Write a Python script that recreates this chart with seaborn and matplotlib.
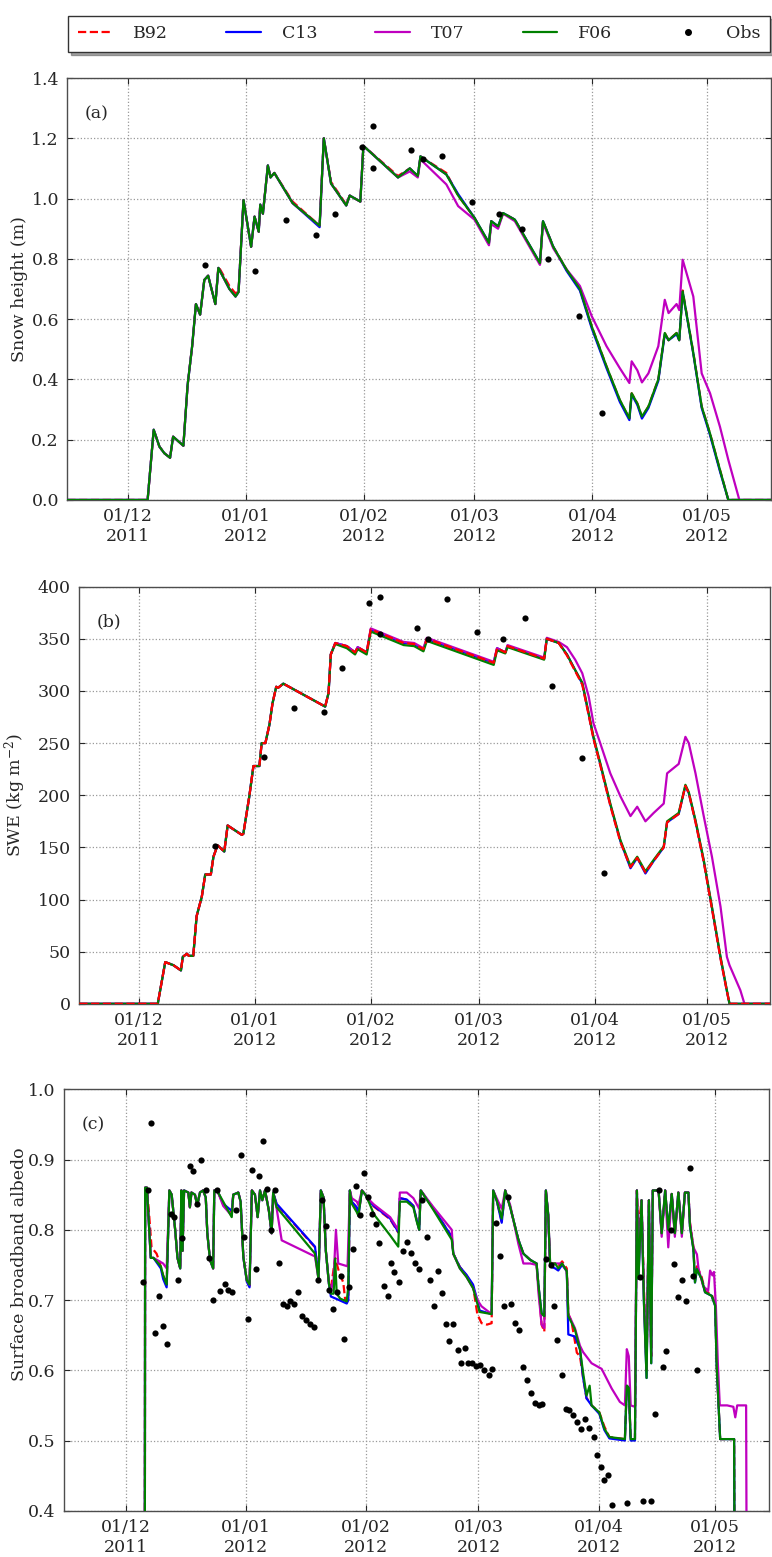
import numpy as np
import pandas as pd
import matplotlib
matplotlib.use("Agg")
import matplotlib.pyplot as plt
import matplotlib.dates as mdates
from matplotlib.lines import Line2D
import seaborn as sns

# days counted from 1 Dec 2011
base = pd.Timestamp("2011-12-01")

# ---- (a) snow height (m) ----
hs_days = [-16, 5.1, 6.7, 8.2, 9.5, 11.0, 11.8, 14.5, 15.6, 16.8, 17.8, 18.9, 20.0, 21.0, 22.9, 23.7,
           26.6, 28.2, 29.0, 30.3, 32.3, 33.2, 34.3, 34.7, 35.4, 36.7, 37.4, 38.4, 43.2, 50.3, 51.4,
           53.3, 57.3, 58.2, 61.0, 61.8, 70.9, 74.0, 76.1, 76.8, 83.6, 86.7, 91.0, 94.8, 95.4, 97.2,
           98.5, 101.6, 108.2, 109.0, 111.7, 115.2, 118.7, 121.8, 125.7, 129.2, 131.7, 132.3, 133.8,
           135.0, 136.7, 139.3, 141.0, 142.0, 144.1, 144.8, 145.7, 148.5, 150.7, 152.9, 155.5, 157.7,
           160.6, 169]
hs_f06 = [0, 0, 0.233, 0.177, 0.155, 0.14, 0.21, 0.18, 0.38, 0.51, 0.65, 0.615, 0.73, 0.744, 0.65, 0.77,
          0.70, 0.675, 0.69, 0.995, 0.84, 0.94, 0.89, 0.98, 0.95, 1.11, 1.07, 1.085, 0.985, 0.91, 1.20,
          1.05, 0.977, 1.01, 0.99, 1.175, 1.07, 1.10, 1.075, 1.14, 1.08, 1.01, 0.936, 0.853, 0.925, 0.908,
          0.952, 0.93, 0.786, 0.925, 0.84, 0.764, 0.70, 0.576, 0.443, 0.332, 0.271, 0.354, 0.32,
          0.277, 0.31, 0.40, 0.554, 0.53, 0.554, 0.53, 0.692, 0.487, 0.31, 0.22, 0.10, 0.0,
          0.0, 0.0]
hs_b92 = [0, 0, 0.233, 0.177, 0.155, 0.14, 0.21, 0.18, 0.38, 0.51, 0.65, 0.615, 0.73, 0.744, 0.65, 0.775,
          0.71, 0.685, 0.695, 0.995, 0.84, 0.94, 0.89, 0.98, 0.95, 1.11, 1.07, 1.085, 0.99, 0.91, 1.20,
          1.055, 0.98, 1.01, 0.99, 1.175, 1.075, 1.10, 1.075, 1.14, 1.085, 1.01, 0.936, 0.85, 0.925, 0.905,
          0.952, 0.93, 0.783, 0.925, 0.84, 0.764, 0.70, 0.576, 0.443, 0.33, 0.27, 0.354, 0.32,
          0.275, 0.31, 0.40, 0.554, 0.53, 0.554, 0.53, 0.695, 0.49, 0.31, 0.22, 0.10, 0.0,
          0.0, 0.0]
hs_c13 = [0, 0, 0.233, 0.177, 0.155, 0.14, 0.21, 0.18, 0.38, 0.51, 0.65, 0.615, 0.73, 0.744, 0.65, 0.77,
          0.70, 0.675, 0.69, 0.995, 0.84, 0.94, 0.89, 0.98, 0.95, 1.11, 1.07, 1.085, 0.985, 0.905, 1.20,
          1.05, 0.977, 1.01, 0.99, 1.175, 1.07, 1.10, 1.075, 1.14, 1.08, 1.015, 0.936, 0.853, 0.925, 0.908,
          0.952, 0.93, 0.786, 0.925, 0.84, 0.76, 0.695, 0.57, 0.437, 0.325, 0.265, 0.35, 0.315,
          0.27, 0.305, 0.395, 0.55, 0.53, 0.55, 0.53, 0.69, 0.485, 0.305, 0.215, 0.095, 0.0,
          0.0, 0.0]
hs_t07 = [0, 0, 0.233, 0.177, 0.155, 0.14, 0.21, 0.18, 0.38, 0.51, 0.65, 0.615, 0.73, 0.744, 0.65, 0.77,
          0.70, 0.675, 0.69, 0.995, 0.84, 0.94, 0.89, 0.98, 0.95, 1.11, 1.07, 1.085, 0.985, 0.91, 1.20,
          1.05, 0.977, 1.01, 0.99, 1.175, 1.07, 1.09, 1.07, 1.13, 1.047, 0.975, 0.93, 0.845, 0.915, 0.90,
          0.95, 0.925, 0.78, 0.92, 0.835, 0.765, 0.71, 0.61, 0.51, 0.437, 0.388, 0.46, 0.43,
          0.39, 0.42, 0.51, 0.664, 0.62, 0.65, 0.63, 0.797, 0.675, 0.42, 0.354, 0.243, 0.133,
          0.0, 0.0]

# ---- (b) SWE (kg m-2) ----
swe_days = [-16, 5.0, 7.0, 9.2, 11.2, 11.7, 12.8, 13.3, 14.5, 15.4, 16.8, 17.7, 19.2, 19.9, 21.0, 22.8,
            23.7, 27.5, 27.9, 29.5, 30.6, 32.2, 32.8, 33.8, 34.9, 35.7, 36.7, 37.2, 38.6, 49.8, 50.7,
            51.3, 52.5, 55.6, 57.8, 58.5, 60.9, 62.0, 70.8, 73.6, 76.1, 77.0, 94.9, 95.8, 98.0, 98.6,
            108.4, 109.1, 112.3, 114.5, 116.7, 118.6, 120.3, 121.6, 123.4, 126.1, 128.8, 131.5, 133.3,
            135.5, 137.7, 140.4, 141.3, 144.4, 146.2, 147.1, 148.9, 151.1, 153.3, 155.6, 157.3, 158.0,
            160.9, 162.0, 169]
swe_f06 = [0, 0, 40, 37, 32, 45, 48, 46, 46, 84, 103, 124, 124, 141, 152, 146, 171, 162, 163, 199, 228,
           228, 250, 250, 268, 288, 304, 303, 307, 285, 298, 335, 345, 341, 335, 340, 335, 357, 344, 343,
           338, 348, 325, 339, 336, 342, 330, 350, 346, 335, 320, 308, 279, 256, 231, 192, 157, 132, 141,
           127, 138, 151, 175, 183, 210, 203, 176, 138, 93, 45, 13, 0, 0, 0, 0]
swe_b92 = [0, 0, 40, 37, 32, 45, 48, 46, 46, 84, 103, 124, 124, 141, 152, 146, 171, 162, 163, 199, 228,
           228, 250, 250, 268, 288, 304, 303, 307, 285, 298, 335, 346, 343, 337, 342, 337, 359, 346, 345,
           340, 350, 327, 341, 337, 343, 331, 350, 346, 334, 319, 306, 277, 254, 229, 190, 155, 131, 140,
           126, 137, 150, 174, 182, 209, 202, 174, 136, 91, 43, 12, 0, 0, 0, 0]
swe_c13 = [0, 0, 40, 37, 32, 45, 48, 46, 46, 84, 103, 124, 124, 141, 152, 146, 171, 162, 163, 199, 228,
           228, 250, 250, 268, 288, 304, 303, 307, 285, 298, 335, 346, 343, 337, 342, 337, 359, 346, 345,
           340, 350, 327, 341, 337, 343, 331, 350, 346, 335, 320, 307, 278, 255, 230, 191, 156, 130, 140,
           125, 137, 150, 174, 182, 209, 202, 175, 137, 92, 44, 12, 0, 0, 0, 0]
swe_t07 = [0, 0, 40, 37, 32, 45, 48, 46, 46, 84, 103, 124, 124, 141, 152, 146, 171, 162, 163, 199, 228,
           228, 250, 250, 268, 288, 304, 303, 307, 285, 298, 335, 346, 343, 337, 342, 337, 360, 347, 346,
           341, 351, 328, 341, 337, 344, 332, 351, 347, 342, 330, 317, 295, 269, 250, 221, 199, 180, 189,
           175, 183, 192, 221, 230, 256, 250, 221, 180, 141, 93, 45, 37, 13, 0, 0]

# ---- observations of (a) and (b) ----
obs_days = [20.3, 33.4, 41.5, 49.4, 54.4, 61.5, 64.4, 64.4, 74.4, 77.4, 82.5, 90.4, 97.4, 103.4,
            110.4, 118.4, 124.4]
obs_hs = [0.78, 0.76, 0.93, 0.88, 0.95, 1.17, 1.24, 1.10, 1.16, 1.13, 1.14, 0.99, 0.95, 0.90, 0.80,
          0.61, 0.29]
obs_swe = [151, 237, 284, 280, 322, 384, 390, 355, 360, 350, 388, 357, 350, 370, 305, 236, 125]

# ---- (c) surface broadband albedo, (day, value) ----
alb_f06 = [(4.85, 0.20), (4.95, 0.86), (5.4, 0.86), (6.4, 0.76), (7.1, 0.76), (9.0, 0.748), (9.6, 0.735),
           (10.5, 0.722), (11.2, 0.856), (11.8, 0.85), (12.7, 0.80), (13.3, 0.76), (14.0, 0.745),
           (14.3, 0.856), (14.6, 0.77), (15.0, 0.856), (16.1, 0.853), (16.5, 0.832), (16.9, 0.853),
           (17.8, 0.85), (18.4, 0.835), (19.1, 0.853), (19.9, 0.856), (20.6, 0.846), (21.0, 0.795),
           (21.7, 0.757), (22.5, 0.745), (22.8, 0.856), (23.8, 0.853), (27.3, 0.818), (27.7, 0.85),
           (29.0, 0.853), (29.6, 0.84), (30.3, 0.761), (31.2, 0.728), (31.9, 0.722), (32.5, 0.856),
           (33.3, 0.85), (34.0, 0.818), (34.6, 0.856), (35.2, 0.842), (35.9, 0.856), (36.9, 0.827),
           (37.6, 0.795), (38.0, 0.853), (38.9, 0.832), (48.8, 0.766), (49.7, 0.73), (50.3, 0.856),
           (51.0, 0.846), (51.6, 0.77), (52.4, 0.723), (52.9, 0.709), (53.6, 0.709), (54.0, 0.759),
           (54.4, 0.709), (55.3, 0.702), (57.0, 0.698), (57.4, 0.72), (57.8, 0.856), (58.3, 0.837),
           (59.6, 0.825), (60.0, 0.82), (60.9, 0.856), (61.8, 0.85), (62.9, 0.837), (64.0, 0.822),
           (68.2, 0.792), (70.3, 0.776), (70.7, 0.84), (72.5, 0.84), (74.2, 0.832), (75.0, 0.813),
           (75.7, 0.80), (76.1, 0.856), (79.4, 0.828), (84.1, 0.786), (84.5, 0.766), (86.2, 0.745),
           (87.9, 0.733), (89.6, 0.717), (90.7, 0.695), (91.3, 0.683), (94.4, 0.68), (94.8, 0.856),
           (95.7, 0.842), (97.0, 0.816), (97.9, 0.856), (99.2, 0.832), (101.3, 0.786), (102.6, 0.766),
           (104.4, 0.757), (106.0, 0.752), (106.5, 0.72), (107.3, 0.681), (108.0, 0.677), (108.4, 0.856),
           (109.0, 0.822), (109.5, 0.752), (110.8, 0.752), (111.6, 0.745), (112.6, 0.752), (113.8, 0.741),
           (114.2, 0.677), (115.9, 0.658), (117.2, 0.63), (118.0, 0.597), (118.9, 0.564), (119.7, 0.578),
           (120.2, 0.55), (122.2, 0.54), (123.5, 0.517), (124.8, 0.505), (128.8, 0.502), (129.3, 0.578),
           (129.8, 0.575), (130.3, 0.502), (131.4, 0.502), (131.9, 0.856), (132.3, 0.73), (133.1, 0.842),
           (133.7, 0.70), (134.4, 0.589), (135.0, 0.842), (135.6, 0.61), (136.0, 0.856), (137.5, 0.856),
           (138.3, 0.795), (139.2, 0.856), (140.0, 0.80), (140.9, 0.851), (141.7, 0.795), (142.6, 0.853),
           (143.5, 0.795), (144.3, 0.853), (145.2, 0.853), (145.6, 0.805), (146.5, 0.772), (146.9, 0.725),
           (147.4, 0.744), (148.6, 0.73), (149.5, 0.711), (151.2, 0.706), (152.1, 0.692), (152.5, 0.607),
           (153.0, 0.55), (153.4, 0.502), (157.0, 0.502), (157.2, 0.20)]
alb_c13 = [(4.85, 0.20), (4.95, 0.86), (5.4, 0.86), (6.4, 0.76), (7.1, 0.76), (9.0, 0.745), (9.6, 0.73),
           (10.5, 0.718), (11.2, 0.856), (11.8, 0.85), (12.7, 0.80), (13.3, 0.76), (14.0, 0.745),
           (14.3, 0.856), (14.6, 0.77), (15.0, 0.856), (16.1, 0.853), (16.5, 0.832), (16.9, 0.853),
           (17.8, 0.85), (18.4, 0.835), (19.1, 0.853), (19.9, 0.856), (20.6, 0.846), (21.0, 0.795),
           (21.7, 0.757), (22.5, 0.745), (22.8, 0.856), (23.8, 0.853), (25.1, 0.837), (27.3, 0.827),
           (27.7, 0.85), (29.0, 0.853), (29.6, 0.84), (30.3, 0.761), (31.2, 0.726), (31.9, 0.718),
           (32.5, 0.856), (33.3, 0.85), (34.0, 0.818), (34.6, 0.856), (35.2, 0.842), (35.9, 0.856),
           (36.9, 0.827), (37.6, 0.795), (38.0, 0.853), (38.9, 0.837), (48.8, 0.776), (49.7, 0.73),
           (50.3, 0.856), (51.0, 0.846), (51.6, 0.77), (52.4, 0.723), (52.9, 0.705), (55.0, 0.70),
           (57.0, 0.695), (57.4, 0.70), (57.8, 0.856), (58.3, 0.84), (59.6, 0.832), (60.0, 0.82),
           (60.9, 0.856), (61.8, 0.85), (62.9, 0.84), (64.0, 0.834), (68.2, 0.816), (70.3, 0.797),
           (70.7, 0.845), (72.5, 0.843), (74.2, 0.834), (75.0, 0.815), (75.7, 0.80), (76.1, 0.856),
           (79.4, 0.83), (84.1, 0.79), (84.5, 0.766), (86.2, 0.747), (87.9, 0.736), (89.6, 0.722),
           (90.7, 0.70), (91.3, 0.685), (94.4, 0.68), (94.8, 0.856), (95.7, 0.842), (97.0, 0.81),
           (97.9, 0.856), (99.2, 0.832), (101.3, 0.786), (102.6, 0.766), (104.4, 0.757), (106.0, 0.752),
           (106.5, 0.72), (107.3, 0.681), (108.0, 0.677), (108.4, 0.856), (109.0, 0.822), (109.5, 0.748),
           (110.8, 0.745), (111.6, 0.742), (112.6, 0.75), (113.8, 0.741), (114.2, 0.651), (115.9, 0.648),
           (117.2, 0.63), (118.0, 0.59), (118.9, 0.56), (119.7, 0.554), (120.2, 0.55), (122.2, 0.538),
           (123.5, 0.515), (124.8, 0.503), (128.8, 0.50), (129.3, 0.578), (129.8, 0.575), (130.3, 0.50),
           (131.4, 0.50), (131.9, 0.856), (132.3, 0.73), (133.1, 0.842), (133.7, 0.70), (134.4, 0.589),
           (135.0, 0.842), (135.6, 0.61), (136.0, 0.856), (137.5, 0.856), (138.3, 0.795), (139.2, 0.856),
           (140.0, 0.80), (140.9, 0.851), (141.7, 0.795), (142.6, 0.853), (143.5, 0.795), (144.3, 0.853),
           (145.2, 0.853), (145.6, 0.805), (146.5, 0.772), (146.9, 0.725), (147.4, 0.744), (148.6, 0.73),
           (149.5, 0.711), (151.2, 0.706), (152.1, 0.692), (152.5, 0.607), (153.0, 0.55), (153.4, 0.502),
           (157.0, 0.502), (157.2, 0.20)]
alb_b92 = [(4.85, 0.20), (4.95, 0.86), (5.4, 0.86), (6.0, 0.82), (6.6, 0.775), (7.9, 0.766), (8.6, 0.755),
           (9.6, 0.735), (10.5, 0.722), (11.2, 0.856), (11.8, 0.85), (12.7, 0.80), (13.3, 0.76),
           (14.0, 0.745), (14.3, 0.856), (14.6, 0.77), (15.0, 0.856), (16.1, 0.853), (16.5, 0.832),
           (16.9, 0.853), (17.8, 0.85), (18.4, 0.835), (19.1, 0.853), (19.9, 0.856), (20.6, 0.846),
           (21.0, 0.795), (21.7, 0.757), (22.5, 0.745), (22.8, 0.856), (23.8, 0.853), (25.1, 0.836),
           (27.3, 0.825), (27.7, 0.85), (29.0, 0.853), (29.6, 0.84), (30.3, 0.761), (31.2, 0.728),
           (31.9, 0.72), (32.5, 0.856), (33.3, 0.85), (34.0, 0.818), (34.6, 0.856), (35.2, 0.842),
           (35.9, 0.856), (36.9, 0.827), (37.6, 0.795), (38.0, 0.853), (38.9, 0.836), (48.8, 0.775),
           (49.7, 0.73), (50.3, 0.856), (51.0, 0.846), (51.6, 0.77), (52.4, 0.723), (53.0, 0.72),
           (54.0, 0.76), (55.0, 0.74), (56.1, 0.725), (56.6, 0.70), (57.0, 0.698), (57.4, 0.70),
           (57.8, 0.856), (58.3, 0.84), (59.6, 0.83), (60.0, 0.82), (60.9, 0.856), (61.8, 0.85),
           (62.9, 0.84), (64.0, 0.833), (68.2, 0.815), (70.3, 0.796), (70.7, 0.845), (72.5, 0.843),
           (74.2, 0.834), (75.0, 0.815), (75.7, 0.80), (76.1, 0.856), (79.4, 0.83), (84.1, 0.79),
           (84.5, 0.766), (86.2, 0.747), (87.9, 0.735), (89.6, 0.72), (90.7, 0.68), (91.8, 0.667),
           (93.2, 0.665), (94.4, 0.667), (94.8, 0.856), (95.7, 0.842), (97.0, 0.812), (97.9, 0.856),
           (99.2, 0.832), (101.3, 0.786), (102.6, 0.766), (104.4, 0.757), (106.0, 0.752), (106.5, 0.72),
           (107.3, 0.665), (108.0, 0.655), (108.4, 0.856), (109.0, 0.822), (109.5, 0.752), (110.8, 0.752),
           (111.6, 0.748), (112.6, 0.755), (113.8, 0.745), (114.2, 0.68), (115.0, 0.67), (116.4, 0.625),
           (117.2, 0.62), (118.0, 0.59), (118.9, 0.56), (119.7, 0.556), (120.2, 0.55), (122.2, 0.54),
           (123.5, 0.52), (124.8, 0.505), (128.8, 0.502), (129.3, 0.578), (129.8, 0.575), (130.3, 0.502),
           (131.4, 0.502), (131.9, 0.856), (132.3, 0.80), (133.1, 0.842), (133.7, 0.72), (134.4, 0.60),
           (135.0, 0.842), (135.6, 0.62), (136.0, 0.856), (137.5, 0.856), (138.3, 0.795), (139.2, 0.856),
           (140.0, 0.80), (140.9, 0.851), (141.7, 0.795), (142.6, 0.853), (143.5, 0.795), (144.3, 0.853),
           (145.2, 0.853), (145.6, 0.81), (146.5, 0.775), (146.9, 0.73), (147.4, 0.748), (148.6, 0.733),
           (149.5, 0.713), (151.2, 0.708), (152.1, 0.694), (152.5, 0.607), (153.0, 0.55), (153.4, 0.502),
           (157.0, 0.502), (157.2, 0.20)]
alb_t07 = [(4.85, 0.20), (4.95, 0.86), (5.4, 0.86), (6.4, 0.76), (7.1, 0.76), (9.6, 0.752), (10.5, 0.745),
           (11.2, 0.856), (11.8, 0.85), (12.7, 0.80), (13.3, 0.76), (14.0, 0.745), (14.3, 0.856),
           (14.6, 0.77), (15.0, 0.856), (16.1, 0.853), (16.5, 0.832), (16.9, 0.853), (17.8, 0.85),
           (18.4, 0.835), (19.1, 0.853), (19.9, 0.856), (20.6, 0.846), (21.0, 0.795), (21.7, 0.757),
           (22.5, 0.745), (22.8, 0.856), (23.8, 0.853), (25.1, 0.834), (27.3, 0.82), (27.7, 0.85),
           (29.0, 0.853), (29.6, 0.84), (30.3, 0.761), (31.2, 0.728), (31.9, 0.722), (32.5, 0.856),
           (33.3, 0.85), (34.0, 0.818), (34.6, 0.856), (35.2, 0.842), (35.9, 0.856), (36.9, 0.827),
           (37.6, 0.795), (38.0, 0.853), (38.9, 0.83), (40.2, 0.785), (48.8, 0.762), (49.7, 0.73),
           (50.3, 0.856), (51.0, 0.846), (51.6, 0.77), (52.4, 0.723), (53.0, 0.715), (53.6, 0.73),
           (54.2, 0.80), (54.8, 0.752), (57.2, 0.748), (57.8, 0.856), (58.3, 0.845), (59.6, 0.84),
           (60.0, 0.835), (60.9, 0.856), (61.8, 0.85), (62.9, 0.842), (64.0, 0.836), (68.2, 0.818),
           (70.3, 0.80), (70.7, 0.853), (72.5, 0.853), (74.2, 0.845), (75.7, 0.83), (76.1, 0.856),
           (79.4, 0.832), (84.1, 0.80), (84.5, 0.766), (86.2, 0.745), (87.9, 0.733), (89.6, 0.717),
           (90.7, 0.70), (91.8, 0.691), (94.4, 0.68), (94.8, 0.856), (95.7, 0.845), (97.0, 0.83),
           (97.9, 0.856), (99.2, 0.835), (101.3, 0.78), (102.6, 0.752), (104.4, 0.752), (106.0, 0.75),
           (106.5, 0.71), (107.3, 0.665), (108.0, 0.66), (108.4, 0.856), (109.0, 0.822), (109.5, 0.752),
           (110.8, 0.752), (112.6, 0.752), (113.8, 0.741), (114.2, 0.68), (115.9, 0.66), (117.2, 0.635),
           (118.0, 0.626), (120.2, 0.61), (122.8, 0.602), (125.4, 0.574), (127.5, 0.555), (128.8, 0.55),
           (129.3, 0.63), (129.8, 0.62), (130.3, 0.55), (131.4, 0.548), (131.9, 0.856), (132.3, 0.74),
           (133.1, 0.842), (133.7, 0.71), (134.4, 0.60), (135.0, 0.842), (135.6, 0.62), (136.0, 0.856),
           (137.5, 0.856), (138.3, 0.79), (139.2, 0.856), (140.0, 0.775), (140.9, 0.851), (141.7, 0.79),
           (142.6, 0.853), (143.5, 0.79), (144.3, 0.853), (145.2, 0.853), (145.6, 0.81), (146.5, 0.775),
           (147.4, 0.765), (147.8, 0.745), (149.0, 0.72), (150.3, 0.713), (150.8, 0.742), (151.4, 0.735),
           (151.8, 0.74), (152.3, 0.69), (152.8, 0.61), (153.3, 0.55), (155.2, 0.55), (156.8, 0.548),
           (157.3, 0.533), (157.8, 0.55), (160.1, 0.55), (160.3, 0.20)]

obs_alb_days = [4.5, 5.6, 6.5, 7.5, 8.5, 9.5, 10.5, 11.6, 12.5, 13.5, 14.5, 16.4, 17.4, 18.4, 19.4, 20.7,
                21.5, 22.5, 23.4, 24.4, 25.5, 26.4, 27.5, 28.4, 29.6, 30.5, 31.4, 32.5, 33.5, 34.4, 35.5,
                36.3, 37.4, 38.5, 39.5, 40.5, 41.5, 42.4, 43.4, 44.5, 45.4, 46.4, 47.5, 48.6, 49.5, 50.5,
                51.6, 52.4, 53.5, 54.4, 55.5, 56.4, 57.6, 58.5, 59.5, 60.4, 61.4, 62.6, 63.4, 64.5, 65.4,
                66.6, 67.6, 68.5, 69.3, 70.6, 71.6, 72.5, 73.5, 74.5, 75.7, 76.5, 77.6, 78.5, 79.5, 80.5,
                81.5, 82.5, 83.5, 84.5, 85.6, 86.5, 87.5, 88.4, 89.4, 90.4, 91.4, 92.5, 93.6, 94.6, 95.6,
                96.6, 97.6, 98.5, 99.4, 100.5, 101.5, 102.6, 103.5, 104.5, 105.6, 106.6, 107.5, 108.4,
                109.7, 110.5, 111.4, 112.5, 113.5, 114.5, 115.5, 116.5, 117.5, 118.5, 119.5, 120.7, 121.5,
                122.6, 123.5, 124.5, 125.6, 129.3, 132.6, 133.4, 135.6, 136.5, 137.5, 138.6, 139.5, 140.6,
                141.6, 142.5, 143.5, 144.5, 145.5, 146.5, 147.5]
obs_alb = [0.725, 0.857, 0.952, 0.653, 0.706, 0.663, 0.638, 0.823, 0.818, 0.728, 0.788, 0.891, 0.883,
           0.836, 0.900, 0.857, 0.760, 0.700, 0.857, 0.713, 0.723, 0.714, 0.712, 0.828, 0.907, 0.790,
           0.673, 0.885, 0.744, 0.876, 0.927, 0.858, 0.800, 0.856, 0.753, 0.695, 0.692, 0.698, 0.694,
           0.712, 0.677, 0.671, 0.666, 0.661, 0.729, 0.843, 0.805, 0.714, 0.687, 0.711, 0.734, 0.644,
           0.718, 0.773, 0.863, 0.821, 0.881, 0.846, 0.822, 0.808, 0.781, 0.720, 0.706, 0.752, 0.740,
           0.725, 0.770, 0.782, 0.767, 0.753, 0.744, 0.842, 0.790, 0.728, 0.692, 0.741, 0.710, 0.666,
           0.641, 0.666, 0.629, 0.611, 0.631, 0.611, 0.610, 0.606, 0.608, 0.600, 0.593, 0.602, 0.810,
           0.762, 0.692, 0.846, 0.694, 0.667, 0.658, 0.604, 0.586, 0.567, 0.554, 0.550, 0.552, 0.759,
           0.750, 0.692, 0.643, 0.593, 0.545, 0.543, 0.536, 0.526, 0.516, 0.531, 0.518, 0.505, 0.480,
           0.462, 0.444, 0.451, 0.408, 0.411, 0.733, 0.414, 0.414, 0.538, 0.857, 0.604, 0.628, 0.800,
           0.751, 0.704, 0.728, 0.699, 0.888, 0.734, 0.600]


def to_dates(days):
    return base + pd.to_timedelta(np.asarray(days, dtype=float), unit="D")


def split(pairs):
    d, v = zip(*pairs)
    return to_dates(d), np.array(v)


sns.set_style("ticks")
plt.rcParams["font.family"] = ["DejaVu Serif"]
plt.rcParams["mathtext.fontset"] = "dejavuserif"
FS = 12.5

colors = {"B92": "r", "C13": "b", "T07": "m", "F06": "g"}
styles = {"B92": "--", "C13": "-", "T07": "-", "F06": "-"}

fig = plt.figure(figsize=(7.72, 15.57), dpi=100)
ax_a = fig.add_axes([0.0872, 0.6789, 0.9111, 0.2710])
ax_b = fig.add_axes([0.1027, 0.3553, 0.8947, 0.2679])
ax_c = fig.add_axes([0.0829, 0.0297, 0.9136, 0.2707])


def draw(ax, x, y, name, z):
    sns.lineplot(x=x, y=y, ax=ax, color=colors[name], linestyle=styles[name], linewidth=1.6,
                 estimator=None, sort=False, errorbar=None, legend=False, zorder=z)


# (a)
xa = to_dates(hs_days)
for name, vals, z in [("B92", hs_b92, 2), ("C13", hs_c13, 3), ("T07", hs_t07, 4), ("F06", hs_f06, 5)]:
    draw(ax_a, xa, vals, name, z)
sns.scatterplot(x=to_dates(obs_days), y=obs_hs, ax=ax_a, color="k", s=20, linewidth=0, zorder=6)

# (b) -- B92 ends up on top here
xb = to_dates(swe_days)
for name, vals, z in [("C13", swe_c13, 2), ("T07", swe_t07, 3), ("F06", swe_f06, 4), ("B92", swe_b92, 5)]:
    draw(ax_b, xb, vals, name, z)
sns.scatterplot(x=to_dates(obs_days), y=obs_swe, ax=ax_b, color="k", s=20, linewidth=0, zorder=6)

# (c)
for name, pairs, z in [("B92", alb_b92, 2), ("C13", alb_c13, 3), ("T07", alb_t07, 4), ("F06", alb_f06, 5)]:
    xc, yc = split(pairs)
    draw(ax_c, xc, yc, name, z)
sns.scatterplot(x=to_dates(obs_alb_days), y=obs_alb, ax=ax_c, color="k", s=20, linewidth=0, zorder=6)

# axes cosmetics
setup = [
    (ax_a, (0, 1.4), np.arange(0, 1.41, 0.2), "%.1f", "Snow height (m)", "(a)", "2012-05-17 20:00", -0.056, 0.5),
    (ax_b, (0, 400), np.arange(0, 401, 50), "%d", "SWE (kg m$^{-2}$)", "(b)", "2012-05-17 20:00", -0.074, 0.5),
    (ax_c, (0.4, 1.0), np.arange(0.4, 1.01, 0.1), "%.1f", "Surface broadband albedo", "(c)", "2012-05-15 02:00", -0.051, 0.585),
]
for ax, ylim, yt, fmt, ylab, tag, xend, lx, ly in setup:
    ax.set_xlim(pd.Timestamp("2011-11-15"), pd.Timestamp(xend))
    ax.set_ylim(*ylim)
    ax.set_yticks(yt)
    ax.set_yticklabels([fmt % v for v in yt], fontsize=FS)
    ax.xaxis.set_major_locator(mdates.MonthLocator())
    ax.xaxis.set_major_formatter(mdates.DateFormatter("%d/%m\n%Y"))
    for lab in ax.get_xticklabels():
        lab.set_fontsize(FS)
    ax.tick_params(direction="in", top=True, right=True, length=4, width=0.8, pad=6, labelsize=FS)
    ax.grid(True, color="0.6", linestyle=":", linewidth=0.9)
    for sp in ax.spines.values():
        sp.set_color("0.3")
        sp.set_linewidth(1.0)
    ax.set_xlabel("")
    ax.set_ylabel(ylab, fontsize=FS)
    ax.yaxis.set_label_coords(lx, ly)
    ax.text(0.025, 0.915, tag, transform=ax.transAxes, fontsize=FS, ha="left", va="center")

handles = [Line2D([], [], color="r", ls="--", lw=1.6),
           Line2D([], [], color="b", lw=1.6),
           Line2D([], [], color="m", lw=1.6),
           Line2D([], [], color="g", lw=1.6),
           Line2D([], [], color="k", ls="none", marker="o", markersize=4)]
leg = fig.legend(handles, ["B92", "C13", "T07", "F06", "Obs"], loc="lower left",
                 bbox_to_anchor=(68 / 772, 1 - 52 / 1557, 702 / 772, 42 / 1557), mode="expand",
                 ncol=5, borderaxespad=0, fontsize=FS, frameon=True, shadow=True, fancybox=False,
                 handlelength=2.0, handletextpad=1.2, borderpad=0.55, numpoints=1)
leg.get_frame().set_edgecolor("0.2")
leg.get_frame().set_linewidth(1.0)

fig.savefig("out.png", dpi=100)
